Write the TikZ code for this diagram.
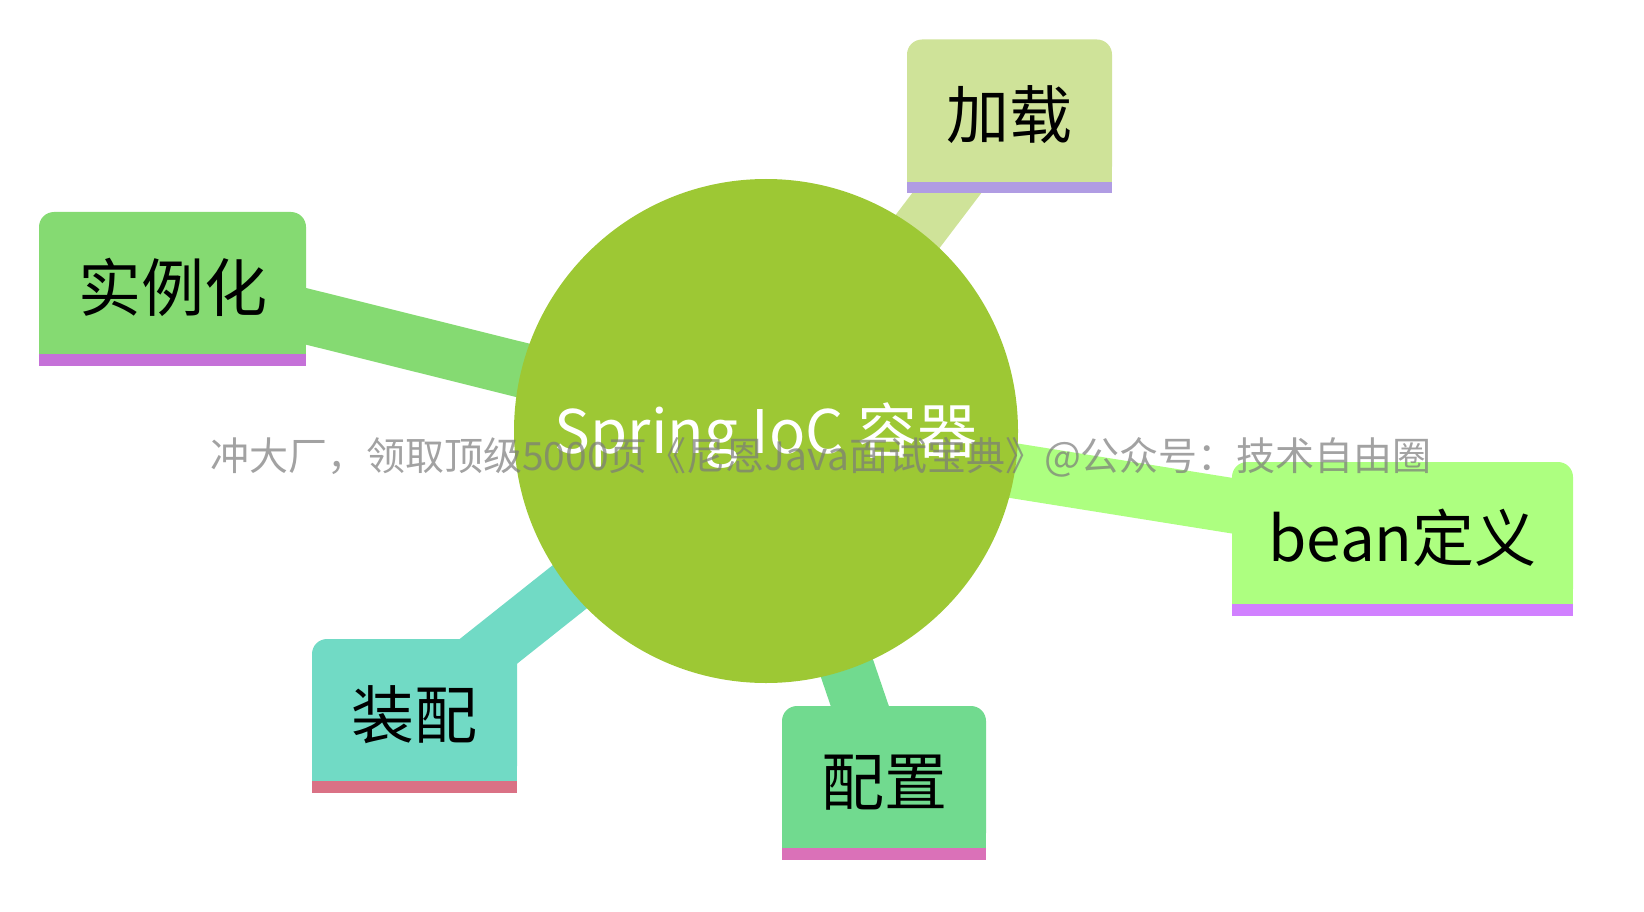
\documentclass[tikz,border=0pt]{standalone}
\usepackage{fontspec}
\setmainfont{Noto Sans CJK SC}
\pgfdeclarelayer{bg}
\pgfsetlayers{bg,main}
\definecolor{hubc}{HTML}{9DC834}
\definecolor{fjz}{HTML}{CFE399}
\definecolor{bjz}{HTML}{B09CE3}
\definecolor{fsl}{HTML}{85DA72}
\definecolor{bsl}{HTML}{C571D8}
\definecolor{fbd}{HTML}{ADFF80}
\definecolor{bbd}{HTML}{D180FF}
\definecolor{fzp}{HTML}{71DAC5}
\definecolor{bzp}{HTML}{DA7185}
\definecolor{fpz}{HTML}{71DA8F}
\definecolor{bpz}{HTML}{DA71B8}
\definecolor{wmgray}{HTML}{7A7A7A}
\tikzset{
  hub/.style={circle, fill=hubc, minimum size=504pt, inner sep=0pt, text=white,
    font=\fontsize{60}{60}\selectfont, text height=44pt, text depth=0pt},
  mmbox/.style={rectangle, rounded corners=15pt, inner sep=0pt, minimum height=142pt,
    font=\fontsize{63}{63}\selectfont, text height=56pt, text depth=0pt, text=black},
  link/.style={line width=55pt, line cap=butt},
  wm/.style={anchor=base, inner sep=0pt, text=wmgray, text opacity=0.7,
    font=\fontsize{39}{39}\selectfont}
}
\begin{document}
\begin{tikzpicture}[x=1pt, y=-1pt]
\useasboundingbox (0,0) rectangle (1644,912);
% hub
\node[hub] (c) at (766,431) {Spring IoC 容器};
% boxes (green part)
\node[mmbox, fill=fjz, minimum width=205pt] (jz) at (1009.5,110.5) {加载};
\node[mmbox, fill=fsl, minimum width=267pt] (sl) at (172.5,283) {实例化};
\node[mmbox, fill=fbd, minimum width=341pt, font=\fontsize{62}{62}\selectfont] (bd) at (1402.5,533) {bean定义};
\node[mmbox, fill=fzp, minimum width=205pt] (zp) at (414.5,710) {装配};
\node[mmbox, fill=fpz, minimum width=204pt] (pz) at (884,777) {配置};
% connectors and square bottom corners, underneath
\begin{pgfonlayer}{bg}
  \draw[link, fjz] (c.center) -- (jz.center);
  \draw[link, fsl] (c.center) -- (sl.center);
  \draw[link, fbd] (c.center) -- (bd.center);
  \draw[link, fzp] (c.center) -- (zp.center);
  \draw[link, fpz] (c.center) -- (pz.center);
  \fill[fjz] (jz.west) rectangle (jz.south east);
  \fill[fsl] (sl.west) rectangle (sl.south east);
  \fill[fbd] (bd.west) rectangle (bd.south east);
  \fill[fzp] (zp.west) rectangle (zp.south east);
  \fill[fpz] (pz.west) rectangle (pz.south east);
\end{pgfonlayer}
% bottom bars
\fill[bjz] (jz.south west) rectangle ++(205,11.5);
\fill[bsl] (sl.south west) rectangle ++(267,12);
\fill[bbd] (bd.south west) rectangle ++(341,12);
\fill[bzp] (zp.south west) rectangle ++(205,12);
\fill[bpz] (pz.south west) rectangle ++(204,12);
% watermark
\node[wm] (wmk) at (821,470) {冲大厂，领取顶级5000页《尼恩Java面试宝典》@公众号：技术自由圈};
\end{tikzpicture}
\end{document}
